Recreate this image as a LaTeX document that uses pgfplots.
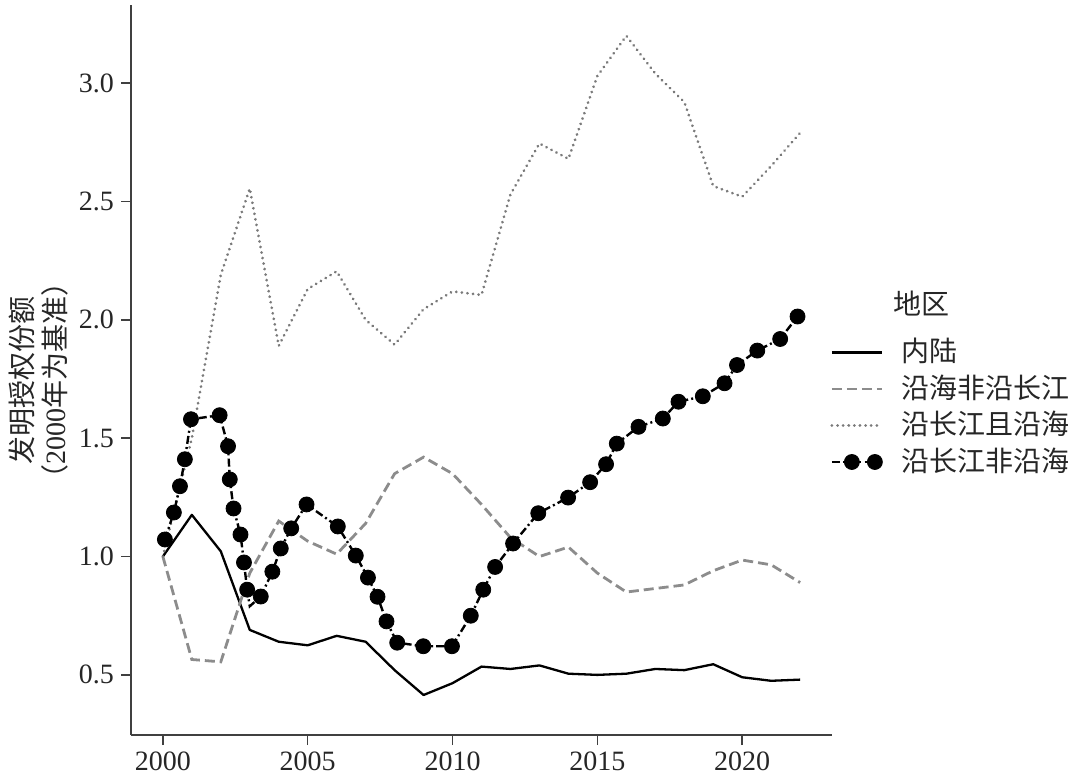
\documentclass[border=0pt]{standalone}
\usepackage{fontspec}
\setmainfont{Liberation Serif}
\newfontfamily\cjk{Noto Sans CJK SC}
\usepackage{pgfplots}
\pgfplotsset{compat=1.18}
\pgfplotsset{
  mylegline/.style={legend image code/.code={\draw[##1] (0pt,0pt) -- (25pt,0pt);}},
  mylegdots/.style={legend image code/.code={
    \draw[black, line width=1.2pt, dash pattern=on 4pt off 1.6pt on 1pt off 1.6pt] (0pt,0pt) -- (25pt,0pt);
    \fill[black] (10pt,0pt) circle (3.75pt);
    \fill[black] (21.5pt,0pt) circle (3.75pt);}},
}

\begin{document}
\begin{tikzpicture}
\useasboundingbox (0,0) rectangle (540pt,389pt);
\begin{axis}[
  at={(65.5pt,21.5pt)}, anchor=south west,
  scale only axis, width=350.5pt, height=365pt,
  xmin=1998.9, xmax=2023.1, ymin=0.246, ymax=3.33,
  axis x line*=bottom, axis y line*=left,
  axis line style={-, line width=1pt, black!75},
  xtick={2000,2005,2010,2015,2020},
  ytick={0.5,1.0,1.5,2.0,2.5,3.0},
  tick align=outside, major tick length=5pt,
  every tick/.style={line width=0.75pt, black!75},
  tick label style={font=\fontsize{14}{16}\selectfont, text=black!85},
  xticklabel style={/pgf/number format/1000 sep={}},
  yticklabel style={/pgf/number format/.cd, fixed, fixed zerofill, precision=1},
  /pgf/number format/assume math mode=true,
  ylabel={发明授权份额\\（{\rmfamily 2000}年为基准）},
  ylabel style={at={(axis description cs:-0.132,0.485)}, anchor=center,
    font=\cjk\fontsize{14}{16.5}\selectfont, align=center, text=black!85},
  legend cell align=left,
  legend style={draw=none, fill=none, at={(rel axis cs:0.9971,0.5444)},
    anchor=north west, inner sep=0pt, row sep=3.75pt,
    nodes={inner sep=0pt, text height=12pt, text depth=2.5pt,
      font=\cjk\fontsize{14}{16}\selectfont, text=black!85},
    /tikz/every odd column/.append style={column sep=9pt}},
  clip=false,
]
% 内陆
\addplot[black, line width=1.15pt, line join=round, mylegline]
  coordinates {
  (2000,1.000) (2001,1.176) (2002,1.022) (2003,0.690) (2004,0.640)
  (2005,0.625) (2006,0.665) (2007,0.640) (2008,0.520) (2009,0.415)
  (2010,0.465) (2011,0.535) (2012,0.525) (2013,0.540) (2014,0.505)
  (2015,0.500) (2016,0.505) (2017,0.525) (2018,0.520) (2019,0.545)
  (2020,0.490) (2021,0.475) (2022,0.480)};
\addlegendentry{内陆}
% 沿海非沿长江
\addplot[black!45, line width=1.4pt, dash pattern=on 5pt off 2.5pt, mylegline]
  coordinates {
  (2000,1.000) (2001,0.565) (2002,0.555) (2003,0.930) (2004,1.150)
  (2005,1.065) (2006,1.010) (2007,1.140) (2008,1.350) (2009,1.420)
  (2010,1.350) (2011,1.220) (2012,1.080) (2013,1.000) (2014,1.040)
  (2015,0.930) (2016,0.850) (2017,0.865) (2018,0.880) (2019,0.940)
  (2020,0.985) (2021,0.965) (2022,0.890)};
\addlegendentry{沿海非沿长江}
% 沿长江且沿海
\addplot[black!52, line width=1.5pt, line cap=round, dash pattern=on 0.01pt off 2.8pt, mylegline]
  coordinates {
  (2000,1.000) (2001,1.500) (2002,2.190) (2003,2.555) (2004,1.890)
  (2005,2.130) (2006,2.205) (2007,2.000) (2008,1.895) (2009,2.045)
  (2010,2.120) (2011,2.105) (2012,2.530) (2013,2.745) (2014,2.680)
  (2015,3.030) (2016,3.200) (2017,3.040) (2018,2.920) (2019,2.565)
  (2020,2.520) (2021,2.650) (2022,2.790)};
\addlegendentry{沿长江且沿海}
% 沿长江非沿海: line
\addplot[black, line width=1.2pt, dash pattern=on 4pt off 1.6pt on 1pt off 1.6pt, forget plot]
  coordinates {
  (2000.07,1.072) (2000.38,1.186) (2000.59,1.297) (2000.76,1.411) (2000.97,1.580)
  (2001.96,1.597) (2002.25,1.466) (2002.31,1.326) (2002.44,1.203) (2002.68,1.093)
  (2002.80,0.975) (2002.91,0.860) (2003.00,0.790) (2003.38,0.831) (2003.78,0.936)
  (2004.07,1.034) (2004.43,1.119) (2004.96,1.220) (2006.04,1.127) (2006.66,1.004)
  (2007.08,0.911) (2007.41,0.830) (2007.72,0.726) (2008.09,0.636) (2008.99,0.621)
  (2009.98,0.621) (2010.63,0.750) (2011.06,0.860) (2011.47,0.956) (2012.09,1.055)
  (2012.96,1.183) (2013.99,1.249) (2014.75,1.314) (2015.30,1.390) (2015.67,1.477)
  (2016.42,1.548) (2017.26,1.583) (2017.80,1.654) (2018.64,1.677) (2019.39,1.732)
  (2019.82,1.809) (2020.52,1.870) (2021.31,1.919) (2021.91,2.014)};
% 沿长江非沿海: markers
\addplot[only marks, mark=*, mark size=3.75pt, black, mylegdots]
  coordinates {
  (2000.07,1.072) (2000.38,1.186) (2000.59,1.297) (2000.76,1.411) (2000.97,1.580)
  (2001.96,1.597) (2002.25,1.466) (2002.31,1.326) (2002.44,1.203) (2002.68,1.093)
  (2002.80,0.975) (2002.91,0.860) (2003.38,0.831) (2003.78,0.936)
  (2004.07,1.034) (2004.43,1.119) (2004.96,1.220) (2006.04,1.127) (2006.66,1.004)
  (2007.08,0.911) (2007.41,0.830) (2007.72,0.726) (2008.09,0.636) (2008.99,0.621)
  (2009.98,0.621) (2010.63,0.750) (2011.06,0.860) (2011.47,0.956) (2012.09,1.055)
  (2012.96,1.183) (2013.99,1.249) (2014.75,1.314) (2015.30,1.390) (2015.67,1.477)
  (2016.42,1.548) (2017.26,1.583) (2017.80,1.654) (2018.64,1.677) (2019.39,1.732)
  (2019.82,1.809) (2020.52,1.870) (2021.31,1.919) (2021.91,2.014)};
\addlegendentry{沿长江非沿海}
\node[anchor=west, inner sep=0pt, font=\cjk\fontsize{14}{16}\selectfont, text=black!85]
  at (rel axis cs:1.087,0.5904) {地区};
\end{axis}
\end{tikzpicture}
\end{document}
